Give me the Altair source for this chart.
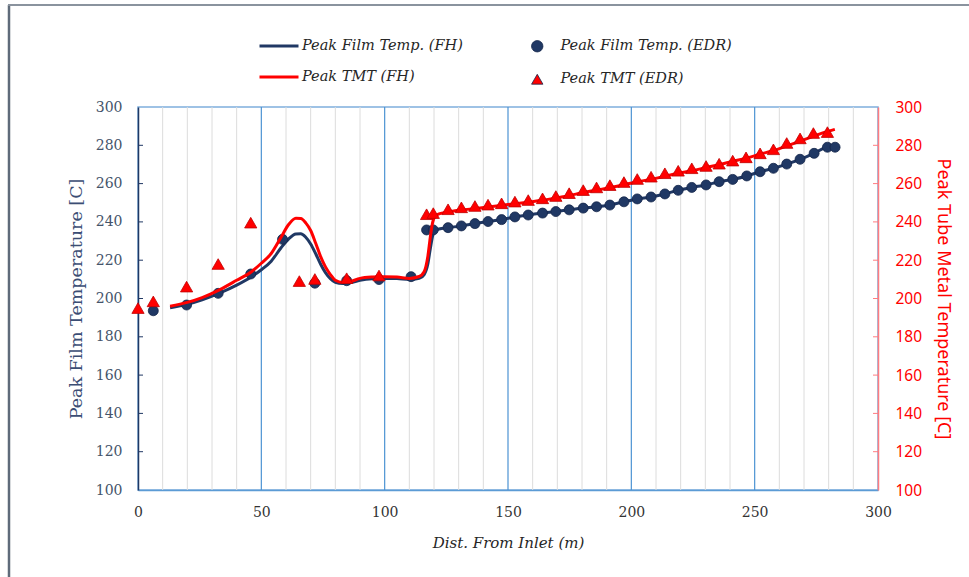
import altair as alt
import pandas as pd

# ---- fired-heater (FH) model profiles ----
fh_film_x = [13, 20, 26, 33, 40, 46, 50, 54, 58, 61, 64, 66, 68, 70, 72, 74, 76, 78, 80, 83, 86,
             90, 95, 100, 105, 110, 114, 116, 117.5, 118.5, 119.5, 120.5, 122, 125.7, 131.1, 136.6,
             141.9, 147.4, 152.8, 158.2, 164.0, 169.4, 174.8, 180.5, 185.9, 191.3, 197.0, 202.4,
             208.0, 213.6, 219.0, 224.5, 230.3, 235.6, 241.1, 246.8, 252.2, 257.6, 263.0, 268.4,
             274.1, 279.5, 282.6]
fh_film_y = [195.2, 197.0, 199.3, 202.8, 207.0, 211.4, 215.0, 219.5, 226.5, 231.0, 233.7, 233.8,
             232.0, 228.5, 223.5, 218.0, 213.5, 210.3, 208.4, 207.8, 208.2, 209.5, 210.3, 210.5,
             210.4, 209.9, 210.5, 212.5, 218.0, 226.0, 233.0, 235.5, 236.3, 237.0, 237.9, 239.1,
             240.2, 241.2, 242.6, 243.6, 244.6, 245.4, 246.3, 247.2, 247.9, 248.8, 250.5, 252.0,
             253.0, 254.6, 256.5, 258.0, 259.3, 261.0, 262.2, 264.0, 266.2, 268.0, 270.2, 272.7,
             275.8, 279.0, 279.0]

fh_tmt_x = [13, 20, 26, 33, 40, 46, 50, 54, 58, 61, 64, 66, 68, 70, 72, 74, 76, 78, 80, 83, 86,
            90, 95, 100, 105, 110, 114, 116, 117.5, 118.5, 119.5, 120.5, 122, 126, 131, 137, 142,
            147, 153, 158, 164, 169, 175, 180, 186, 191, 197, 202, 208, 214, 219, 225, 230, 236,
            241, 247, 252, 258, 263, 268, 274, 279, 282.5]
fh_tmt_y = [196.0, 198.0, 200.5, 204.5, 209.5, 214.0, 218.4, 223.5, 232.0, 238.5, 241.9, 241.8,
            239.5, 235.5, 229.0, 222.0, 216.5, 212.5, 209.5, 208.4, 208.8, 210.5, 211.2, 211.4,
            211.2, 210.5, 211.5, 214.0, 222.0, 232.0, 240.0, 243.0, 244.2, 245.2, 246.2, 247.0,
            247.8, 248.6, 249.5, 250.3, 251.3, 252.4, 253.8, 255.2, 256.6, 257.8, 259.4, 260.9,
            262.2, 264.0, 265.4, 266.8, 268.3, 270.0, 271.6, 273.4, 275.3, 277.4, 279.6, 282.0,
            284.8, 287.0, 288.3]

# ---- EDR point results ----
edr_film_x = [6.2, 19.7, 32.5, 45.7, 58.6, 71.7, 84.6, 97.7, 110.7, 117.0, 119.7, 125.7, 131.1,
              136.6, 141.9, 147.4, 152.8, 158.2, 164.0, 169.4, 174.8, 180.5, 185.9, 191.3, 197.0,
              202.4, 208.0, 213.6, 219.0, 224.5, 230.3, 235.6, 241.1, 246.8, 252.2, 257.6, 263.0,
              268.4, 274.1, 279.5, 282.6]
edr_film_y = [193.6, 196.6, 202.7, 212.8, 230.9, 208.0, 209.3, 209.9, 211.4, 235.8, 235.8, 237.0,
              237.9, 239.1, 240.2, 241.2, 242.6, 243.6, 244.6, 245.4, 246.3, 247.2, 247.9, 248.8,
              250.5, 252.0, 253.0, 254.6, 256.5, 258.0, 259.3, 261.0, 262.2, 264.0, 266.2, 268.0,
              270.2, 272.7, 275.8, 279.0, 279.0]

edr_tmt_x = [0.0, 6.2, 19.7, 32.5, 45.7, 65.4, 71.7, 84.6, 97.7, 117.0, 119.7, 125.7, 131.1,
             136.6, 141.9, 147.4, 152.8, 158.2, 164.0, 169.4, 174.8, 180.5, 185.9, 191.3, 197.0,
             202.4, 208.0, 213.6, 219.0, 224.5, 230.3, 235.6, 241.1, 246.5, 252.2, 257.6, 263.0,
             268.4, 273.8, 279.5]
edr_tmt_y = [195.0, 198.5, 206.2, 218.0, 239.6, 209.1, 210.2, 210.6, 212.0, 244.0, 244.6, 246.6,
             247.6, 248.3, 249.0, 249.7, 250.6, 251.4, 252.3, 253.5, 255.0, 256.6, 258.0, 259.2,
             260.8, 262.4, 263.6, 265.4, 266.7, 268.0, 269.2, 270.4, 272.0, 273.7, 275.8, 277.9,
             281.2, 283.6, 286.4, 286.9]

x_grid = [10, 20, 30, 40, 50, 60, 70, 80, 90, 100, 110, 120, 130, 140, 150, 160, 170, 180, 190,
          200, 210, 220, 230, 240, 250, 260, 270, 280, 290]
x_labels = [0, 50, 100, 150, 200, 250, 300]
y_labels = [100, 120, 140, 160, 180, 200, 220, 240, 260, 280, 300]
y_ticks = [120, 140, 160, 180, 200, 220, 240, 260, 280]

NAVY = "#203864"
RED = "#FF0000"
SERIF = "DejaVu Serif"
SANS = "Noto Sans"

line_names = ["Peak Film Temp. (FH)", "Peak TMT (FH)"]
point_names = ["Peak Film Temp. (EDR)", "Peak TMT (EDR)"]

film_line_df = pd.DataFrame({"x": fh_film_x, "y": fh_film_y, "s": line_names[0]})
tmt_line_df = pd.DataFrame({"x": fh_tmt_x, "y": fh_tmt_y, "s": line_names[1]})
film_pt_df = pd.DataFrame({"x": edr_film_x, "y": edr_film_y, "p": point_names[0]})
tmt_pt_df = pd.DataFrame({"x": edr_tmt_x, "y": edr_tmt_y, "p": point_names[1]})
tick_df = pd.DataFrame({"v": y_ticks})
grid_df = pd.DataFrame({"g": x_grid})

y_scale = alt.Scale(domain=[100, 300], nice=False, zero=False)
x_scale = alt.Scale(domain=[0, 300], nice=False, zero=False)

x_axis = alt.Axis(
    values=x_labels, labelOverlap=False, labelFlush=False,
    title="Dist. From Inlet (m)",
    titleFont=SERIF, titleFontStyle="italic", titleFontWeight="normal", titleFontSize=15,
    titleColor="#262626", titlePadding=16,
    labelFont=SERIF, labelFontSize=14, labelColor="#333333", labelPadding=15,
    ticks=False, grid=False,
    domainColor="#5B9BD5", domainWidth=1.5,
)

left_axis = alt.Axis(
    orient="left", values=y_labels, grid=False, labelOverlap=False, labelFlush=False,
    ticks=False, domainColor=NAVY, domainWidth=1.5,
    labelFont=SERIF, labelFontSize=14, labelColor="#44546A", labelPadding=16,
    title="Peak Film Temperature [C]", titleFont=SERIF, titleFontSize=17.5,
    titleFontWeight="normal", titleColor="#3B4D74", titlePadding=10,
)
right_axis = alt.Axis(
    orient="right", values=y_labels, grid=False, labelOverlap=False, labelFlush=False,
    ticks=False, domainColor="#FF7C80", domainWidth=1.5,
    labelFont=SANS, labelFontSize=15.5, labelColor=RED, labelPadding=17,
    title="Peak Tube Metal Temperature [C]", titleFont=SANS, titleFontSize=18,
    titleFontWeight="normal", titleColor=RED, titlePadding=12,
)

stroke_scale = alt.Scale(domain=line_names, range=[NAVY, RED])
fill_scale = alt.Scale(domain=point_names, range=[NAVY, RED])
shape_scale = alt.Scale(domain=point_names, range=["circle", "triangle-up"])

line_legend = alt.Legend(
    title=None, orient="none", legendX=120, legendY=-82, direction="vertical",
    symbolType="stroke", symbolSize=1521, symbolStrokeWidth=3, labelOffset=2,
    labelFont=SERIF, labelFontStyle="italic", labelFontSize=14.5, labelColor="#262626",
    rowPadding=3, padding=0, labelLimit=400,
)
point_legend = alt.Legend(
    title=None, orient="none", legendX=392, legendY=-68, direction="vertical",
    symbolSize=130, labelOffset=16, symbolStrokeWidth=0.8,
    labelFont=SERIF, labelFontStyle="italic", labelFontSize=14.5, labelColor="#262626",
    rowPadding=17, padding=0, labelLimit=400,
)

# vertical grid every 10 m, stronger every 50 m
grid = alt.Chart(grid_df).mark_rule().encode(
    x=alt.X("g:Q", scale=x_scale, axis=x_axis),
    color=alt.condition("datum.g % 50 === 0", alt.value("#4C93D3"), alt.value("#DCDCDC")),
    strokeWidth=alt.condition("datum.g % 50 === 0", alt.value(1.2), alt.value(1)),
)

# left-axis layers: film temperature
film_line = alt.Chart(film_line_df).mark_line(strokeWidth=3, interpolate="monotone").encode(
    x=alt.X("x:Q", scale=x_scale),
    y=alt.Y("y:Q", scale=y_scale, axis=left_axis),
    stroke=alt.Stroke("s:N", scale=stroke_scale, legend=line_legend),
)
film_pts = alt.Chart(film_pt_df).mark_point(filled=True, size=100, opacity=1, stroke="#14264a",
                                             strokeWidth=0.8).encode(
    x="x:Q", y=alt.Y("y:Q", axis=left_axis),
    fill=alt.Fill("p:N", scale=fill_scale, legend=point_legend),
    shape=alt.Shape("p:N", scale=shape_scale, legend=point_legend),
)
left_ticks = alt.Chart(tick_df).mark_rule(color=NAVY, strokeWidth=1).encode(
    y=alt.Y("v:Q", axis=left_axis), x=alt.value(0), x2=alt.value(5))

# right-axis layers: tube metal temperature
tmt_line = alt.Chart(tmt_line_df).mark_line(strokeWidth=3, interpolate="monotone").encode(
    x="x:Q",
    y=alt.Y("y:Q", scale=y_scale, axis=right_axis),
    stroke=alt.Stroke("s:N", scale=stroke_scale, legend=line_legend),
)
tmt_pts = alt.Chart(tmt_pt_df).mark_point(filled=True, size=150, opacity=1, stroke="#C00000",
                                           strokeWidth=0.8).encode(
    x="x:Q", y=alt.Y("y:Q", axis=right_axis),
    fill=alt.Fill("p:N", scale=fill_scale, legend=point_legend),
    shape=alt.Shape("p:N", scale=shape_scale, legend=point_legend),
)
right_ticks = alt.Chart(tick_df).mark_rule(color="#FF7C80", strokeWidth=1).encode(
    y=alt.Y("v:Q", axis=right_axis), x=alt.value(735), x2=alt.value(740))

left = alt.layer(film_line, left_ticks, film_pts)
right = alt.layer(tmt_line, right_ticks, tmt_pts)

# outer frame around the chart
frame_df = pd.DataFrame({"k": [0]})
frame_left = alt.Chart(frame_df).mark_rule(color="#5F6B7A", strokeWidth=2.5).encode(
    x=alt.value(-129), y=alt.value(-102), y2=alt.value(480))
frame_top = alt.Chart(frame_df).mark_rule(color="#8A939E", strokeWidth=2).encode(
    x=alt.value(-130), x2=alt.value(840), y=alt.value(-102))

chart = alt.layer(grid, left, right, frame_left, frame_top).resolve_scale(
    y="independent"
).properties(
    width=740, height=383,
    padding={"left": 138, "top": 107, "right": 91, "bottom": 87},
    autosize=alt.AutoSizeParams(type="none"),
    background="white",
).configure_view(stroke="#7FAEDD", strokeWidth=1.5)

chart.save("out.html", embed_options={"renderer": "svg", "actions": False})
